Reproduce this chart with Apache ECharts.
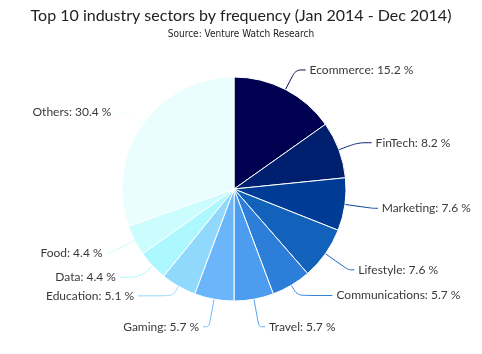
<!DOCTYPE html>
<html><head><meta charset="utf-8">
<script src="https://cdn.jsdelivr.net/npm/echarts@6/dist/echarts.min.js"></script>
<style>html,body{margin:0;padding:0;background:#fff}#c{width:482px;height:354px}</style>
</head><body><div id="c"></div>
<script>
const categories = ['Ecommerce','FinTech','Marketing','Lifestyle','Communications','Travel','Gaming','Education','Data','Food','Others'];
const values = [15.2, 8.2, 7.6, 7.6, 5.7, 5.7, 5.7, 5.1, 4.4, 4.4, 30.4];
const colors = ['#000050','#00206f','#003c96','#1262bb','#2d7ed8','#4c9cf0','#6bb6fb','#90d8fc','#acf8fe','#cbfcfe','#ebfeff'];
// label line lengths (first segment, second segment) per slice
const lineLen1 = [22, 20, 28, 28, 12, 28, 28, 11, 17, 27, 21];
const lineLen2 = [10, 14, 5, 6, 35, 6, 6, 35, 20, 4, 10];
const chart = echarts.init(document.getElementById('c'));
chart.setOption({
  animation:false,
  title:{
    text:'Top 10 industry sectors by frequency (Jan 2014 - Dec 2014)',
    subtext:'Source: Venture Watch Research',
    left:'center', top:3, itemGap:5,
    textStyle:{fontFamily:'Lato', fontSize:16, fontWeight:'normal', color:'#222'},
    subtextStyle:{fontFamily:"'DejaVu Sans Condensed','Roboto Condensed','Liberation Sans Narrow',Roboto,sans-serif", fontSize:10, color:'#222'}
  },
  series:[{
    type:'pie', center:[234,189], radius:[0,112], startAngle:90, clockwise:true,
    avoidLabelOverlap:false,
    data: categories.map((c,i)=>({name:c, value:values[i], itemStyle:{color:colors[i]},
      labelLine:{length:lineLen1[i], length2:lineLen2[i]}})),
    itemStyle:{borderColor:'#fff', borderWidth:1},
    label:{formatter:p=>p.name+': '+p.value+' %', fontFamily:'Lato', fontSize:12, color:'#3a3a3a', overflow:'none', distanceToLabelLine:4},
    labelLine:{smooth:0.3, lineStyle:{width:1}},
    minShowLabelAngle:0
  }]
});
</script></body></html>
